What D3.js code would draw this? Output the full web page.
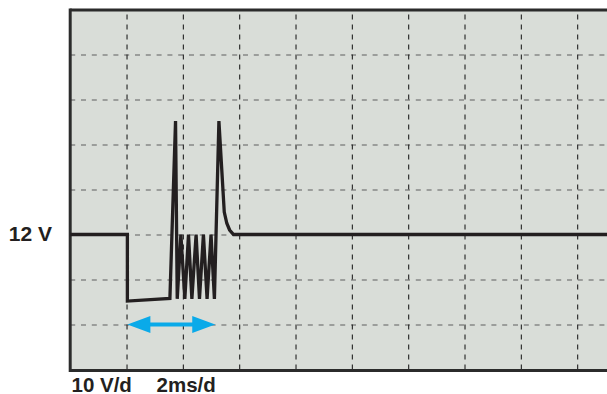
<!DOCTYPE html>
<html>
<head>
<meta charset="utf-8">
<script src="https://cdn.jsdelivr.net/npm/d3@7"></script>
<style>
  html, body { margin: 0; padding: 0; background: #fff; }
  svg { display: block; }
  text { font-family: "Liberation Sans", Arial, sans-serif; font-weight: bold; fill: #231f20; }
</style>
</head>
<body>
<script>
// ---- data ----
const timeMs  = [0, 2.03, 2.03, 3.54, 3.74, 3.80, 3.93, 4.07, 4.20, 4.32, 4.47, 4.59, 4.73, 4.86, 5.00, 5.12, 5.28, 5.47, 5.56, 5.66, 5.80, 20];
const voltsV  = [12, 12, -2.8, -2.2, 37.2, -2.3, 12, -2.3, 12, -2.3, 12, -2.3, 12, -2.3, 12, -2.3, 37.2, 17, 14.5, 13, 12, 12];
const timeTicks = [0, 2, 4, 6, 8, 10, 12, 14, 16, 18, 20];
const voltTicks = [-18, -8, 2, 12, 22, 32, 42, 52, 62];
const labelVolt = [12];
const arrowSpan = [2.03, 5.15];
const arrowLevel = -8;
const scaleLabels = ["10 V/d", "2ms/d"];

// ---- layout ----
const W = 607, H = 394;
const plotLeft = 70.2, plotTop = 9.5, divW = 28.165 * 2, divH = 45;
const x = d3.scaleLinear().domain([0, 20]).range([plotLeft, plotLeft + divW * 10]);
const y = d3.scaleLinear().domain([-18, 62]).range([plotTop + divH * 8, plotTop]);

const svg = d3.select("body").append("svg").attr("width", W).attr("height", H);

// plot background
svg.append("rect")
  .attr("x", x(0)).attr("y", y(62))
  .attr("width", W - x(0)).attr("height", y(-18) - y(62))
  .attr("fill", "#d9ddd8");

// horizontal grid
const gy = svg.append("g")
  .attr("transform", `translate(${x(0)},0)`)
  .call(d3.axisLeft(y).tickValues(voltTicks.slice(1, -1)).tickSize(-(W - x(0))).tickFormat(""));
gy.select(".domain").remove();
gy.selectAll(".tick line")
  .attr("stroke", "#5e5e5e").attr("stroke-width", 1.2).attr("stroke-dasharray", "5,5.8");

// vertical grid
const gx = svg.append("g")
  .attr("transform", `translate(0,${y(-18)})`)
  .call(d3.axisBottom(x).tickValues(timeTicks.slice(1, -1)).tickSize(-(y(-18) - y(62))).tickFormat(""));
gx.select(".domain").remove();
gx.selectAll(".tick line")
  .attr("stroke", "#222").attr("stroke-width", 1.1).attr("stroke-dasharray", "5,5");

// borders
const border = svg.append("g").attr("stroke", "#2b2b2b").attr("stroke-width", 3);
border.append("line").attr("x1", x(0)).attr("x2", W).attr("y1", y(62) + 0.5).attr("y2", y(62) + 0.5);
border.append("line").attr("x1", x(0)).attr("x2", W).attr("y1", y(-18) + 1).attr("y2", y(-18) + 1);
border.append("line").attr("x1", x(0)).attr("x2", x(0)).attr("y1", y(62) - 1).attr("y2", y(-18) + 2.5);

// trace
const pts = timeMs.map((t, i) => [t, voltsV[i]]);
svg.append("path")
  .datum(pts)
  .attr("d", d3.line().x(d => x(d[0])).y(d => y(d[1])))
  .attr("fill", "none")
  .attr("stroke", "#231f20")
  .attr("stroke-width", 3.3)
  .attr("stroke-linejoin", "miter")
  .attr("stroke-miterlimit", 2);

// double-headed arrow
const ax0 = x(arrowSpan[0]), ax1 = x(arrowSpan[1]), ay = y(arrowLevel);
const headL = 23, headH = 8.5, shaft = 2;
svg.append("path")
  .attr("d", [
    `M${ax0},${ay}`,
    `L${ax0 + headL},${ay - headH}`,
    `L${ax0 + headL},${ay - shaft}`,
    `L${ax1 - headL},${ay - shaft}`,
    `L${ax1 - headL},${ay - headH}`,
    `L${ax1},${ay}`,
    `L${ax1 - headL},${ay + headH}`,
    `L${ax1 - headL},${ay + shaft}`,
    `L${ax0 + headL},${ay + shaft}`,
    `L${ax0 + headL},${ay + headH}`,
    "Z"
  ].join(" "))
  .attr("fill", "#0aaae9");

// 12 V label via axis
const lab = svg.append("g")
  .attr("transform", `translate(52,0)`)
  .call(d3.axisLeft(y).tickValues(labelVolt).tickSize(0).tickPadding(0).tickFormat(d => d + " V"));
lab.select(".domain").remove();
lab.selectAll("text")
  .attr("font-size", "21px")
  .attr("font-family", "'Liberation Sans', Arial, sans-serif")
  .attr("font-weight", "bold")
  .attr("fill", "#231f20")
  .attr("dy", "0.3em");

// scale labels
svg.append("text").attr("x", 71.5).attr("y", 391.5).attr("font-size", "20.5px").text(scaleLabels[0]);
svg.append("text").attr("x", 156.5).attr("y", 391.5).attr("font-size", "20.5px").text(scaleLabels[1]);
</script>
</body>
</html>
